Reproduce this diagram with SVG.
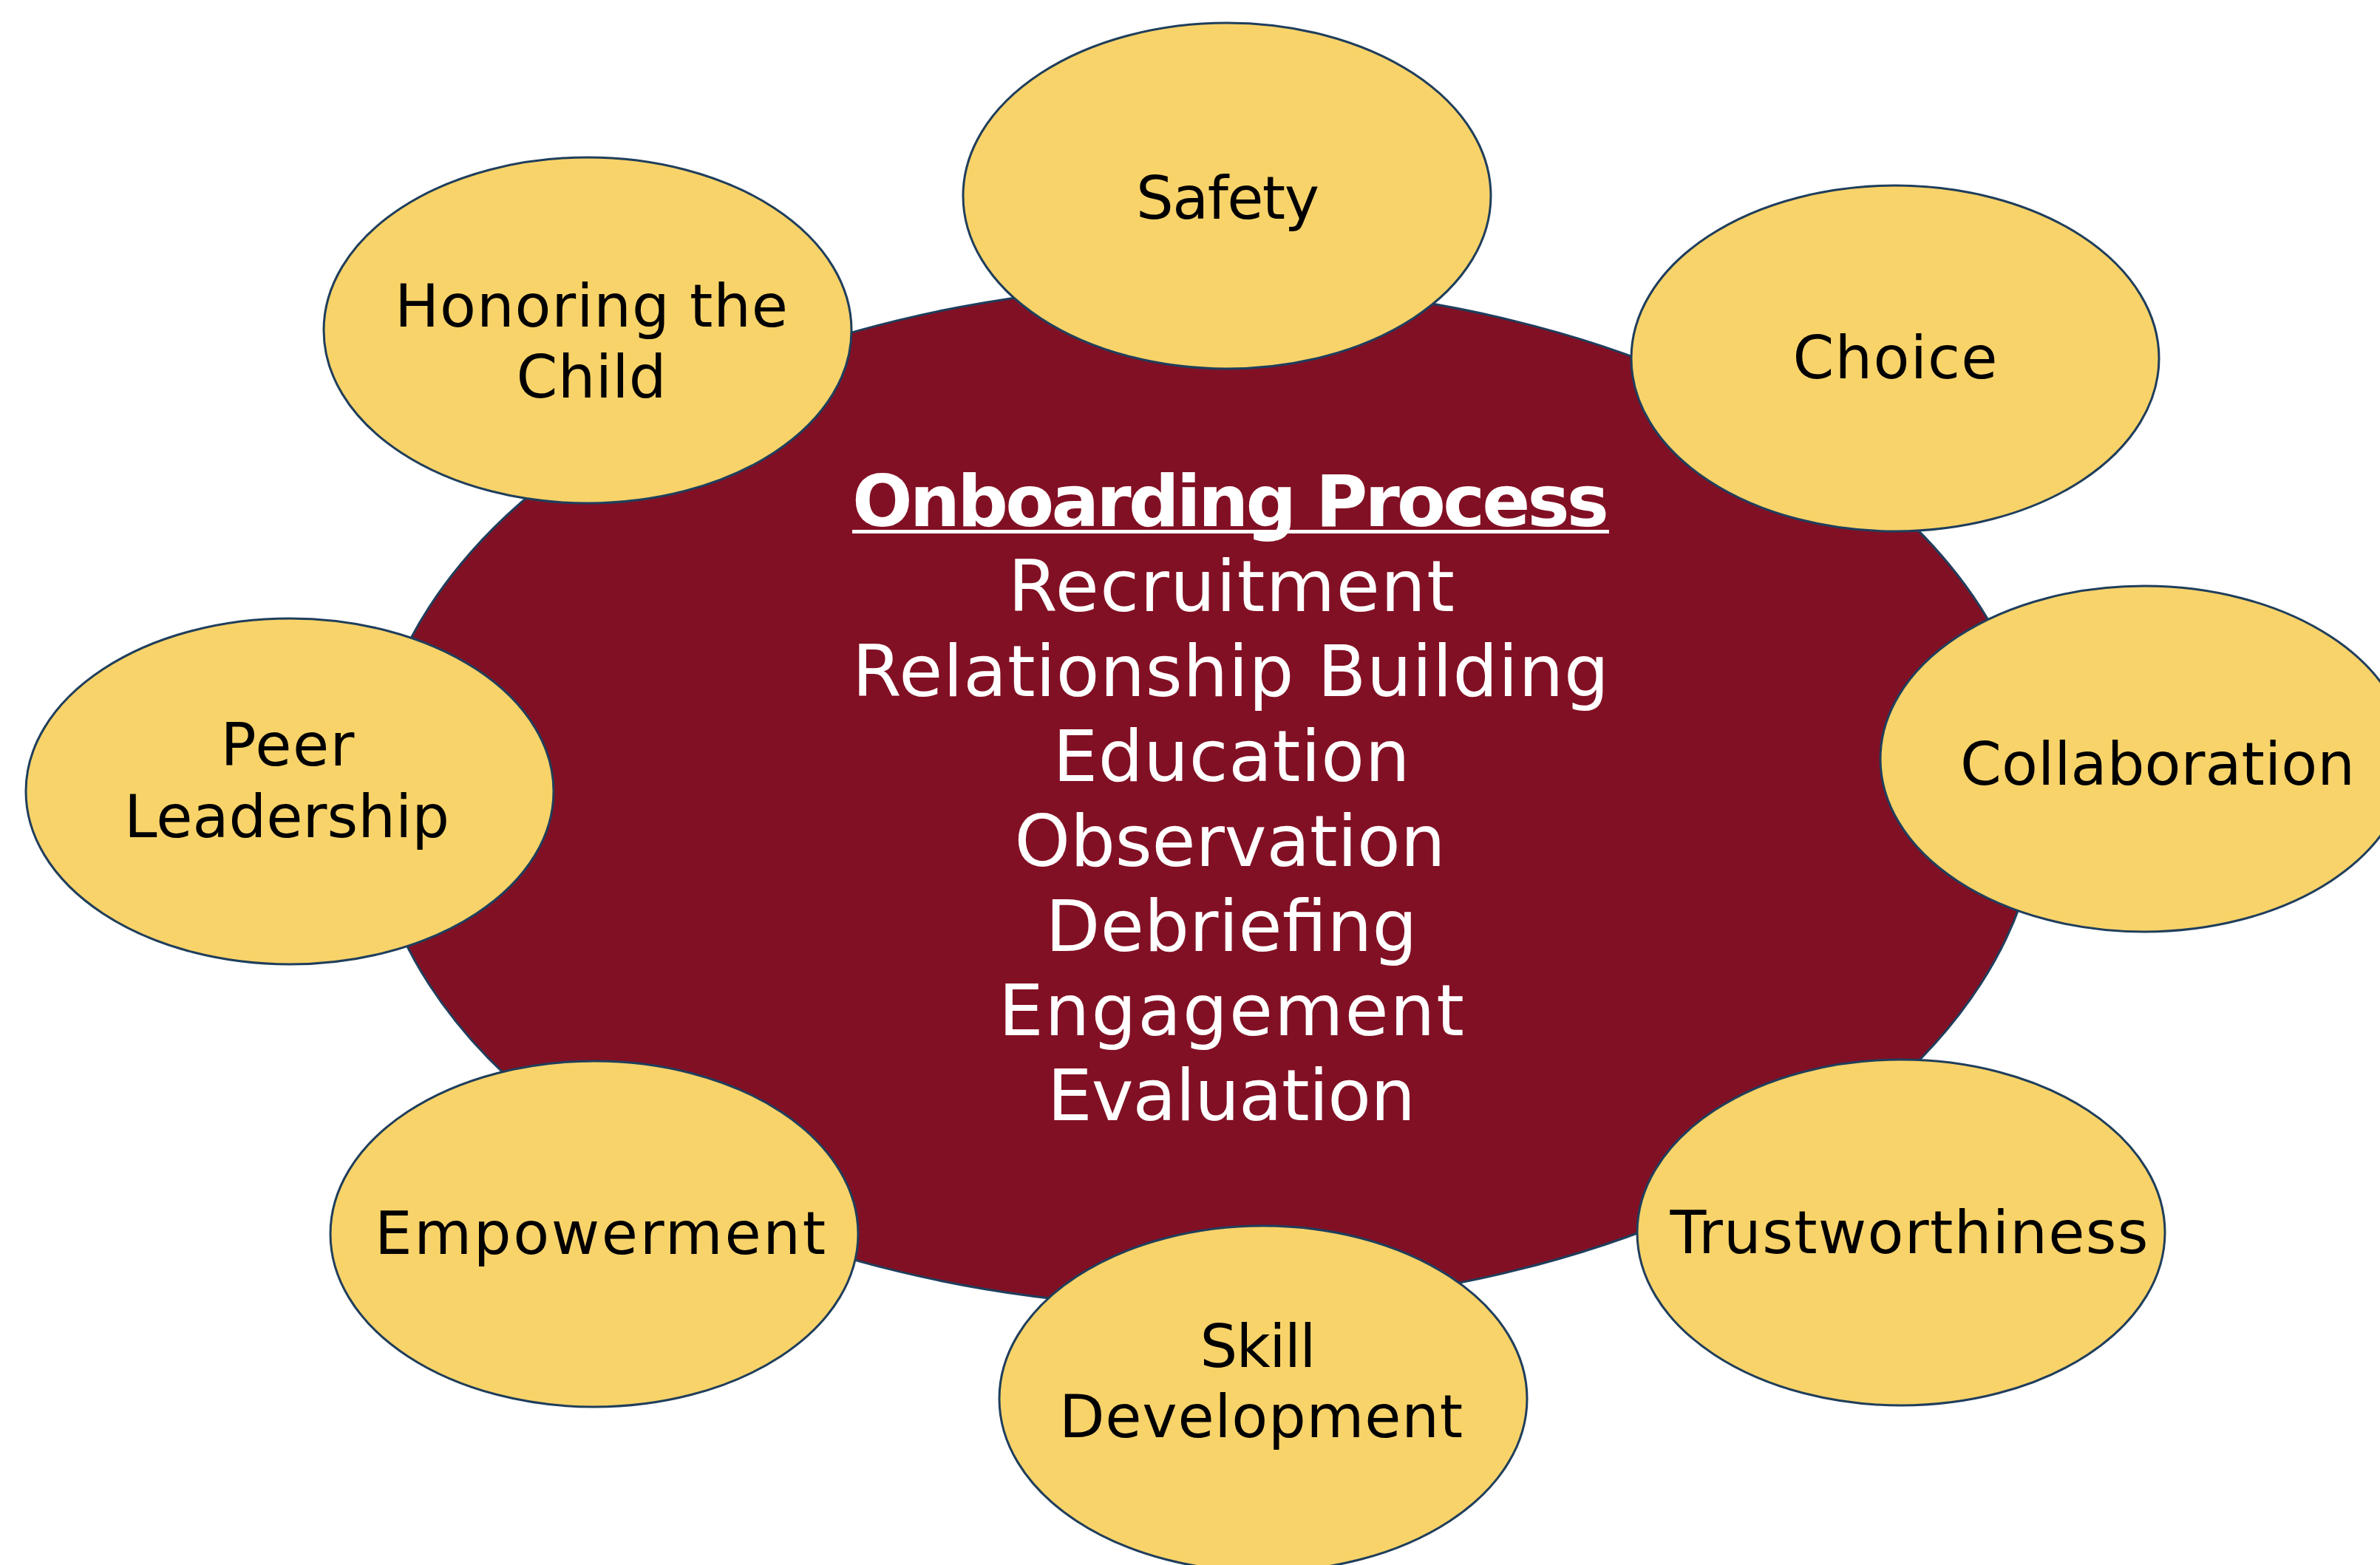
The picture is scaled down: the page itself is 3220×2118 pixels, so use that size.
<svg xmlns="http://www.w3.org/2000/svg" width="3220" height="2118" viewBox="0 0 3220 2118">
<style>
.hub{fill:#821024;stroke:#1F3E5C;stroke-width:3}
.bub{fill:#F8D36A;stroke:#1F3E5C;stroke-width:3}
.lbl{font-family:"DejaVu Sans","Liberation Sans",sans-serif;font-size:80px;fill:#000000;text-anchor:middle}
.ctr{font-family:"DejaVu Sans","Liberation Sans",sans-serif;font-size:96px;fill:#FFFFFF;text-anchor:middle}
.ttl{font-family:"DejaVu Sans","Liberation Sans",sans-serif;font-size:96px;font-weight:bold;fill:#FFFFFF;text-anchor:middle}
</style>
<rect x="0" y="0" width="3220" height="2118" fill="#FFFFFF"/>
<g id="connectors"></g>
<g id="onboarding-process">
<ellipse class="hub" cx="1630" cy="1077" rx="1129" ry="692"/>
<text class="ttl" x="1665" y="712" textLength="1024">Onboarding Process</text>
<rect x="1153" y="717" width="1024" height="5" fill="#FFFFFF"/>
<text class="ctr" x="1666" y="827" textLength="604">Recruitment</text>
<text class="ctr" x="1665" y="942" textLength="1024">Relationship Building</text>
<text class="ctr" x="1666" y="1057" textLength="483">Education</text>
<text class="ctr" x="1664" y="1172" textLength="583">Observation</text>
<text class="ctr" x="1666" y="1287" textLength="503">Debriefing</text>
<text class="ctr" x="1666" y="1401" textLength="630">Engagement</text>
<text class="ctr" x="1666" y="1516" textLength="498">Evaluation</text>
</g>
<g id="safety">
<ellipse class="bub" cx="1660" cy="265" rx="357" ry="234"/>
<text class="lbl" x="1661" y="296" textLength="248">Safety</text>
</g>
<g id="honoring-the-child">
<ellipse class="bub" cx="795" cy="447" rx="357" ry="234"/>
<text class="lbl" x="800" y="442" textLength="532">Honoring the</text>
<text class="lbl" x="800" y="538" textLength="203">Child</text>
</g>
<g id="choice">
<ellipse class="bub" cx="2564" cy="485" rx="357" ry="234"/>
<text class="lbl" x="2564" y="512" textLength="277">Choice</text>
</g>
<g id="peer-leadership">
<ellipse class="bub" cx="392" cy="1071" rx="357" ry="234"/>
<text class="lbl" x="389" y="1036" textLength="181">Peer</text>
<text class="lbl" x="388" y="1133" textLength="440">Leadership</text>
</g>
<g id="collaboration">
<ellipse class="bub" cx="2901" cy="1027" rx="357" ry="234"/>
<text class="lbl" x="2919" y="1062" textLength="534">Collaboration</text>
</g>
<g id="empowerment">
<ellipse class="bub" cx="804" cy="1670" rx="357" ry="234"/>
<text class="lbl" x="812" y="1697" textLength="610">Empowerment</text>
</g>
<g id="trustworthiness">
<ellipse class="bub" cx="2572" cy="1668" rx="357" ry="234"/>
<text class="lbl" x="2583" y="1696" textLength="647">Trustworthiness</text>
</g>
<g id="skill-development">
<ellipse class="bub" cx="1709" cy="1893" rx="357" ry="234"/>
<text class="lbl" x="1702" y="1850" textLength="157">Skill</text>
<text class="lbl" x="1706" y="1945" textLength="546">Development</text>
</g>
</svg>
